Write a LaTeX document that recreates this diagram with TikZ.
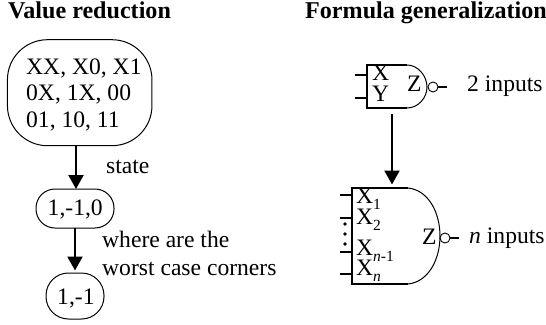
\documentclass[tikz,border=0pt]{standalone}
\usepackage{fontspec}
\setmainfont{Liberation Serif}
\usetikzlibrary{arrows.meta}
\newcommand{\subx}[1]{X\raisebox{-6pt}{\fontsize{15.5}{15.5}\selectfont #1}}
\tikzset{
  x=1pt,y=-1pt,
  txt/.style={inner sep=0pt,anchor=base west,font=\fontsize{23.6}{23.6}\selectfont},
  head/.style={txt,font=\fontsize{24.1}{24.1}\selectfont\bfseries},
  hollow/.style={inner sep=0pt,outer sep=0pt},
  flow/.style={line width=2.2pt,-{Triangle[length=14pt,width=15pt]}},
  gateline/.style={line width=1.7pt},
  gatecurve/.style={line width=1pt},
  bubble/.style={circle,draw=black,line width=.9pt,minimum size=10pt,inner sep=0pt,outer sep=0pt},
  blob/.style={hollow,draw=black,line width=1pt},
}
\begin{document}
\begin{tikzpicture}
\useasboundingbox (0,0) rectangle (546,324);
\node[head] (h1) at (8,18) {Value reduction};
\node[head] (h2) at (305,18) {Formula generalization};

\node[blob,minimum width=144.5pt,minimum height=106pt,rounded corners=40pt] (b1) at (79.7,92.7) {};
\node[blob,minimum width=78pt,minimum height=39pt,rounded corners=19pt] (b2) at (75,208.5) {};
\node[blob,minimum width=58pt,minimum height=46pt,rounded corners=22.5pt] (b3) at (75,296) {};

\node[txt] (t1) at (26,74.3) {XX, X0, X1};
\node[txt] (t2) at (26,100.5) {0X, 1X, 00};
\node[txt] (t3) at (26,127) {01, 10, 11};
\node[txt] (t4) at (47.5,215) {1,-1,0};
\node[txt] (t5) at (57,304) {1,-1};
\node[txt] (t6) at (106,173) {state};
\node[txt] (t7) at (102,247.5) {where are the};
\node[txt] (t8) at (102,275) {worst case corners};

\draw[flow] ([xshift=1pt]b2.north |- b1.south) -- ([xshift=1pt]b2.north);
\draw[flow,shorten >=2.5pt] (b2.south) -- (b3.north);

% gate 1
\node[hollow,minimum width=50pt,minimum height=43pt] (g1) at (392,86.5) {};
\draw[gateline] (407,65) -- (367,65) -- (367,108) -- (407,108);
\draw[gatecurve] (407,65) .. controls (418,65) and (427,76) .. (427,87) .. controls (427,98) and (418,108) .. (407,108);
\coordinate (a1) at (355,75);
\coordinate (a2) at (355,98);
\draw[gateline] (a1) -- (367,75);
\draw[gateline] (a2) -- (367,98);
\node[bubble] (o1) at (433,87) {};
\coordinate (e1) at (447,87);
\draw[gateline] (o1) -- (e1);
\node[txt] (x) at (372,80) {X};
\node[txt] (y) at (372,101) {Y};
\node[txt] (z) at (407,91) {Z};
\node[txt] (i2) at (467,91) {2 inputs};

% gate 2
\node[hollow,minimum width=80pt,minimum height=96pt] (g2) at (392,236) {};
\draw[gateline] (408,188) -- (352,188) -- (352,284) -- (408,284);
\draw[gatecurve] (408,188) .. controls (428,190) and (440,212) .. (440,236) .. controls (440,260) and (428,282) .. (408,284);
\draw[flow,shorten <=6pt,shorten >=3.5pt] (g1.south) -- (g2.north);
\foreach \n/\yy in {1/195,2/218,3/252,4/274}{
  \coordinate (c\n) at (340,\yy);
  \draw[gateline] (c\n) -- (352,\yy);
}
\foreach \n/\yy in {1/224,2/234,3/244}{
  \fill (345,\yy) circle (1.8pt);
}
\node[bubble] (o2) at (445,238) {};
\coordinate (e2) at (459,238);
\draw[gateline] (o2) -- (e2);
\node[txt] (l1) at (356,203) {\subx{1}};
\node[txt] (l2) at (356,224) {\subx{2}};
\node[txt] (l3) at (356,255) {\subx{\itshape n\upshape -1}};
\node[txt] (l4) at (356,275) {\subx{\itshape n}};
\node[txt] (z2) at (422,244) {Z};
\node[txt] (i3) at (469,243) {\textit{n} inputs};
\end{tikzpicture}
\end{document}
